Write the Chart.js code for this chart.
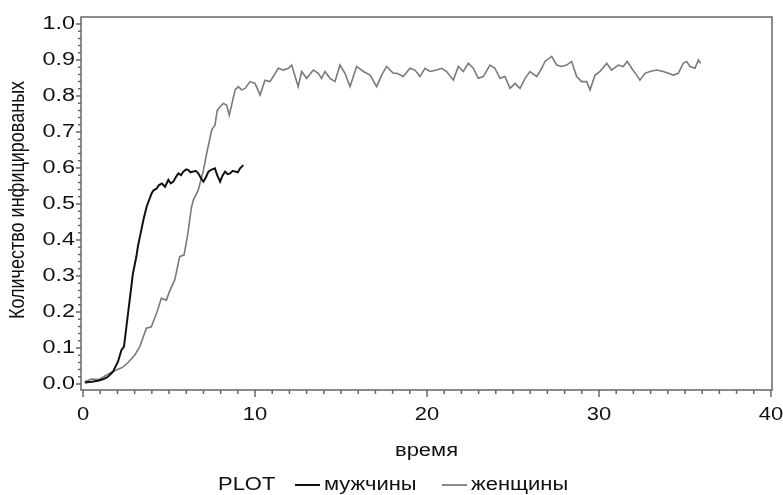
<!DOCTYPE html>
<html lang="ru">
<head>
<meta charset="UTF-8">
<title>Количество инфицированых</title>
<script src="https://cdn.jsdelivr.net/npm/chart.js"></script>
<style>
    html, body { margin: 0; padding: 0; background: #fff; }
    #wrap { width: 783px; height: 495px; }
</style>
</head>
<body>
<div id="wrap"><canvas id="chart"></canvas></div>
<script>
// время / доля инфицированных, мужчины
const menTime = [0.1, 0.5, 0.87, 1.2, 1.45, 1.74, 2.03, 2.23, 2.38, 2.52, 2.71, 2.9, 3.1, 3.2, 3.31, 3.39,
    3.51, 3.7, 3.99, 4.1, 4.28, 4.4, 4.58, 4.77, 4.96, 5.1, 5.25, 5.4, 5.54, 5.7, 5.83, 6.0, 6.12, 6.25,
    6.41, 6.55, 6.7, 6.85, 7.0, 7.15, 7.29, 7.45, 7.67, 7.8, 7.97, 8.1, 8.26, 8.4, 8.55, 8.7, 8.84, 9.0, 9.13, 9.32];
const menShare = [0.004, 0.006, 0.009, 0.014, 0.02, 0.034, 0.062, 0.094, 0.104, 0.159, 0.233, 0.307, 0.354, 0.385, 0.41, 0.428,
    0.456, 0.493, 0.53, 0.538, 0.543, 0.552, 0.557, 0.548, 0.567, 0.557, 0.562, 0.575, 0.585, 0.58, 0.59, 0.596, 0.594, 0.588,
    0.59, 0.592, 0.585, 0.572, 0.562, 0.575, 0.59, 0.595, 0.599, 0.58, 0.562, 0.578, 0.59, 0.583, 0.585, 0.592, 0.59, 0.588, 0.599, 0.608];

// время / доля инфицированных, женщины
const womenTime = [0.1, 0.48, 0.9, 1.2, 1.55, 2.03, 2.3, 2.6, 3.0, 3.3, 3.68, 3.97, 4.3, 4.55, 4.84, 5.05, 5.33, 5.62, 5.87,
    6.1, 6.3, 6.41, 6.7, 7.0, 7.19, 7.48, 7.67, 7.8, 7.97, 8.16, 8.35, 8.5, 8.64, 8.84, 9.03, 9.22, 9.42, 9.71, 10.0,
    10.29, 10.58, 10.87, 11.06, 11.35, 11.65, 11.94, 12.13, 12.51, 12.71, 13.0, 13.39, 13.68, 13.87, 14.07, 14.36, 14.65,
    14.94, 15.23, 15.52, 15.91, 16.3, 16.69, 17.07, 17.36, 17.65, 18.04, 18.24, 18.62, 19.01, 19.3, 19.59, 19.88, 20.17,
    20.56, 20.85, 21.14, 21.53, 21.82, 22.11, 22.4, 22.69, 22.98, 23.27, 23.66, 23.95, 24.24, 24.53, 24.83, 25.12, 25.41,
    25.7, 25.99, 26.38, 26.67, 26.86, 27.25, 27.54, 27.83, 28.12, 28.41, 28.7, 28.99, 29.28, 29.48, 29.77, 30.06, 30.45,
    30.73, 31.12, 31.41, 31.64, 31.9, 32.19, 32.38, 32.67, 32.97, 33.35, 33.74, 34.03, 34.32, 34.61, 34.9, 35.1, 35.29,
    35.58, 35.78, 35.91];
const womenShare = [0.006, 0.014, 0.012, 0.02, 0.03, 0.041, 0.046, 0.059, 0.08, 0.104, 0.155, 0.159, 0.2, 0.238, 0.233, 0.26, 0.289, 0.354, 0.358,
    0.42, 0.49, 0.511, 0.539, 0.594, 0.641, 0.706, 0.719, 0.76, 0.77, 0.779, 0.775, 0.747, 0.775, 0.817, 0.826, 0.817, 0.821, 0.84, 0.835,
    0.803, 0.844, 0.84, 0.854, 0.877, 0.872, 0.877, 0.886, 0.826, 0.868, 0.849, 0.872, 0.863, 0.849, 0.868, 0.849, 0.84,
    0.886, 0.863, 0.826, 0.882, 0.868, 0.858, 0.826, 0.858, 0.882, 0.863, 0.863, 0.854, 0.877, 0.872, 0.854, 0.877, 0.868,
    0.872, 0.877, 0.868, 0.844, 0.882, 0.868, 0.891, 0.877, 0.849, 0.854, 0.886, 0.877, 0.849, 0.854, 0.821, 0.835, 0.821,
    0.849, 0.868, 0.854, 0.877, 0.896, 0.91, 0.886, 0.882, 0.886, 0.896, 0.854, 0.84, 0.84, 0.817, 0.858, 0.868, 0.891,
    0.872, 0.886, 0.882, 0.896, 0.877, 0.858, 0.844, 0.863, 0.868, 0.872, 0.868, 0.863, 0.858, 0.863, 0.891, 0.896, 0.882,
    0.877, 0.9, 0.891];

const xTicks = [0, 10, 20, 30, 40];
const xTickLabels = ['0', '10', '20', '30', '40'];
const yTicks = [0, 0.1, 0.2, 0.3, 0.4, 0.5, 0.6, 0.7, 0.8, 0.9, 1.0];
const yTickLabels = ['0.0', '0.1', '0.2', '0.3', '0.4', '0.5', '0.6', '0.7', '0.8', '0.9', '1.0'];

const FONT = '18px "Liberation Sans", Arial, sans-serif';
const SX = 1.22;          // wide lettering
const AXIS = '#666';
const INK = '#111';

function toPoints(xs, ys) {
    return xs.map((x, i) => ({ x: x, y: ys[i] }));
}

function wideText(ctx, text, x, y, align, sx) {
    ctx.save();
    ctx.translate(x, y);
    ctx.scale(sx || SX, 1);
    ctx.textAlign = align;
    ctx.textBaseline = 'middle';
    ctx.fillText(text, 0, 0);
    ctx.restore();
}

// frame, ticks, labels and legend
const decor = {
    id: 'decor',
    beforeDatasetsDraw(chart) {
        const { ctx, chartArea: a, scales } = chart;
        const sx = scales.x, sy = scales.y;
        ctx.save();
        ctx.strokeStyle = AXIS;
        ctx.lineWidth = 1.5;
        ctx.strokeRect(a.left, a.top, a.right - a.left, a.bottom - a.top);

        ctx.beginPath();
        for (let v = 0; v <= 40; v++) {
            const px = sx.getPixelForValue(v);
            const len = v % 10 === 0 ? 7 : 4;
            ctx.moveTo(px, a.bottom);
            ctx.lineTo(px, a.bottom + len);
        }
        for (let k = 0; k <= 50; k++) {
            const py = sy.getPixelForValue(k * 0.02);
            const len = k % 5 === 0 ? 5 : 3;
            ctx.moveTo(a.left, py);
            ctx.lineTo(a.left - len, py);
        }
        ctx.stroke();
        ctx.restore();
    },
    afterDraw(chart) {
        const { ctx, chartArea: a, scales } = chart;
        const sx = scales.x, sy = scales.y;
        ctx.save();
        ctx.fillStyle = INK;
        ctx.font = FONT;

        xTicks.forEach((v, i) => wideText(ctx, xTickLabels[i], sx.getPixelForValue(v), 415, 'center'));
        yTicks.forEach((v, i) => wideText(ctx, yTickLabels[i], 75, sy.getPixelForValue(v), 'right', 1.3));

        wideText(ctx, 'время', (a.left + a.right) / 2, 451, 'center');

        // rotated y title
        ctx.save();
        ctx.translate(18, 200);
        ctx.rotate(-Math.PI / 2);
        ctx.scale(1, SX);
        ctx.textAlign = 'center';
        ctx.textBaseline = 'middle';
        ctx.fillText('Количество инфицированых', 0, 0);
        ctx.restore();

        // legend
        wideText(ctx, 'PLOT', 218, 485, 'left');
        ctx.lineWidth = 2;
        ctx.strokeStyle = INK;
        ctx.beginPath(); ctx.moveTo(295, 485); ctx.lineTo(320, 485); ctx.stroke();
        wideText(ctx, 'мужчины', 324, 485, 'left');
        ctx.strokeStyle = '#8a8a8a';
        ctx.beginPath(); ctx.moveTo(442, 485); ctx.lineTo(467, 485); ctx.stroke();
        wideText(ctx, 'женщины', 471, 485, 'left');
        ctx.restore();
    }
};

new Chart(document.getElementById('chart'), {
    type: 'line',
    data: {
        datasets: [
            {
                label: 'мужчины',
                data: toPoints(menTime, menShare),
                borderColor: INK,
                borderWidth: 2,
                pointRadius: 0,
                tension: 0
            },
            {
                label: 'женщины',
                data: toPoints(womenTime, womenShare),
                borderColor: '#7a7a7a',
                borderWidth: 1.6,
                pointRadius: 0,
                tension: 0
            }
        ]
    },
    options: {
        responsive: true,
        maintainAspectRatio: false,
        animation: false,
        layout: { padding: { top: 17, right: 11, left: 0, bottom: 0 } },
        plugins: {
            legend: { display: false },
            tooltip: { enabled: false }
        },
        scales: {
            x: {
                type: 'linear',
                min: -0.12,
                max: 40.06,
                grid: { display: false },
                border: { display: false },
                ticks: { display: false },
                afterFit(scale) { scale.height = 105; }
            },
            y: {
                type: 'linear',
                min: -0.0167,
                max: 1.0194,
                grid: { display: false },
                border: { display: false },
                ticks: { display: false },
                afterFit(scale) { scale.width = 81; }
            }
        }
    },
    plugins: [decor]
});
</script>
</body>
</html>
